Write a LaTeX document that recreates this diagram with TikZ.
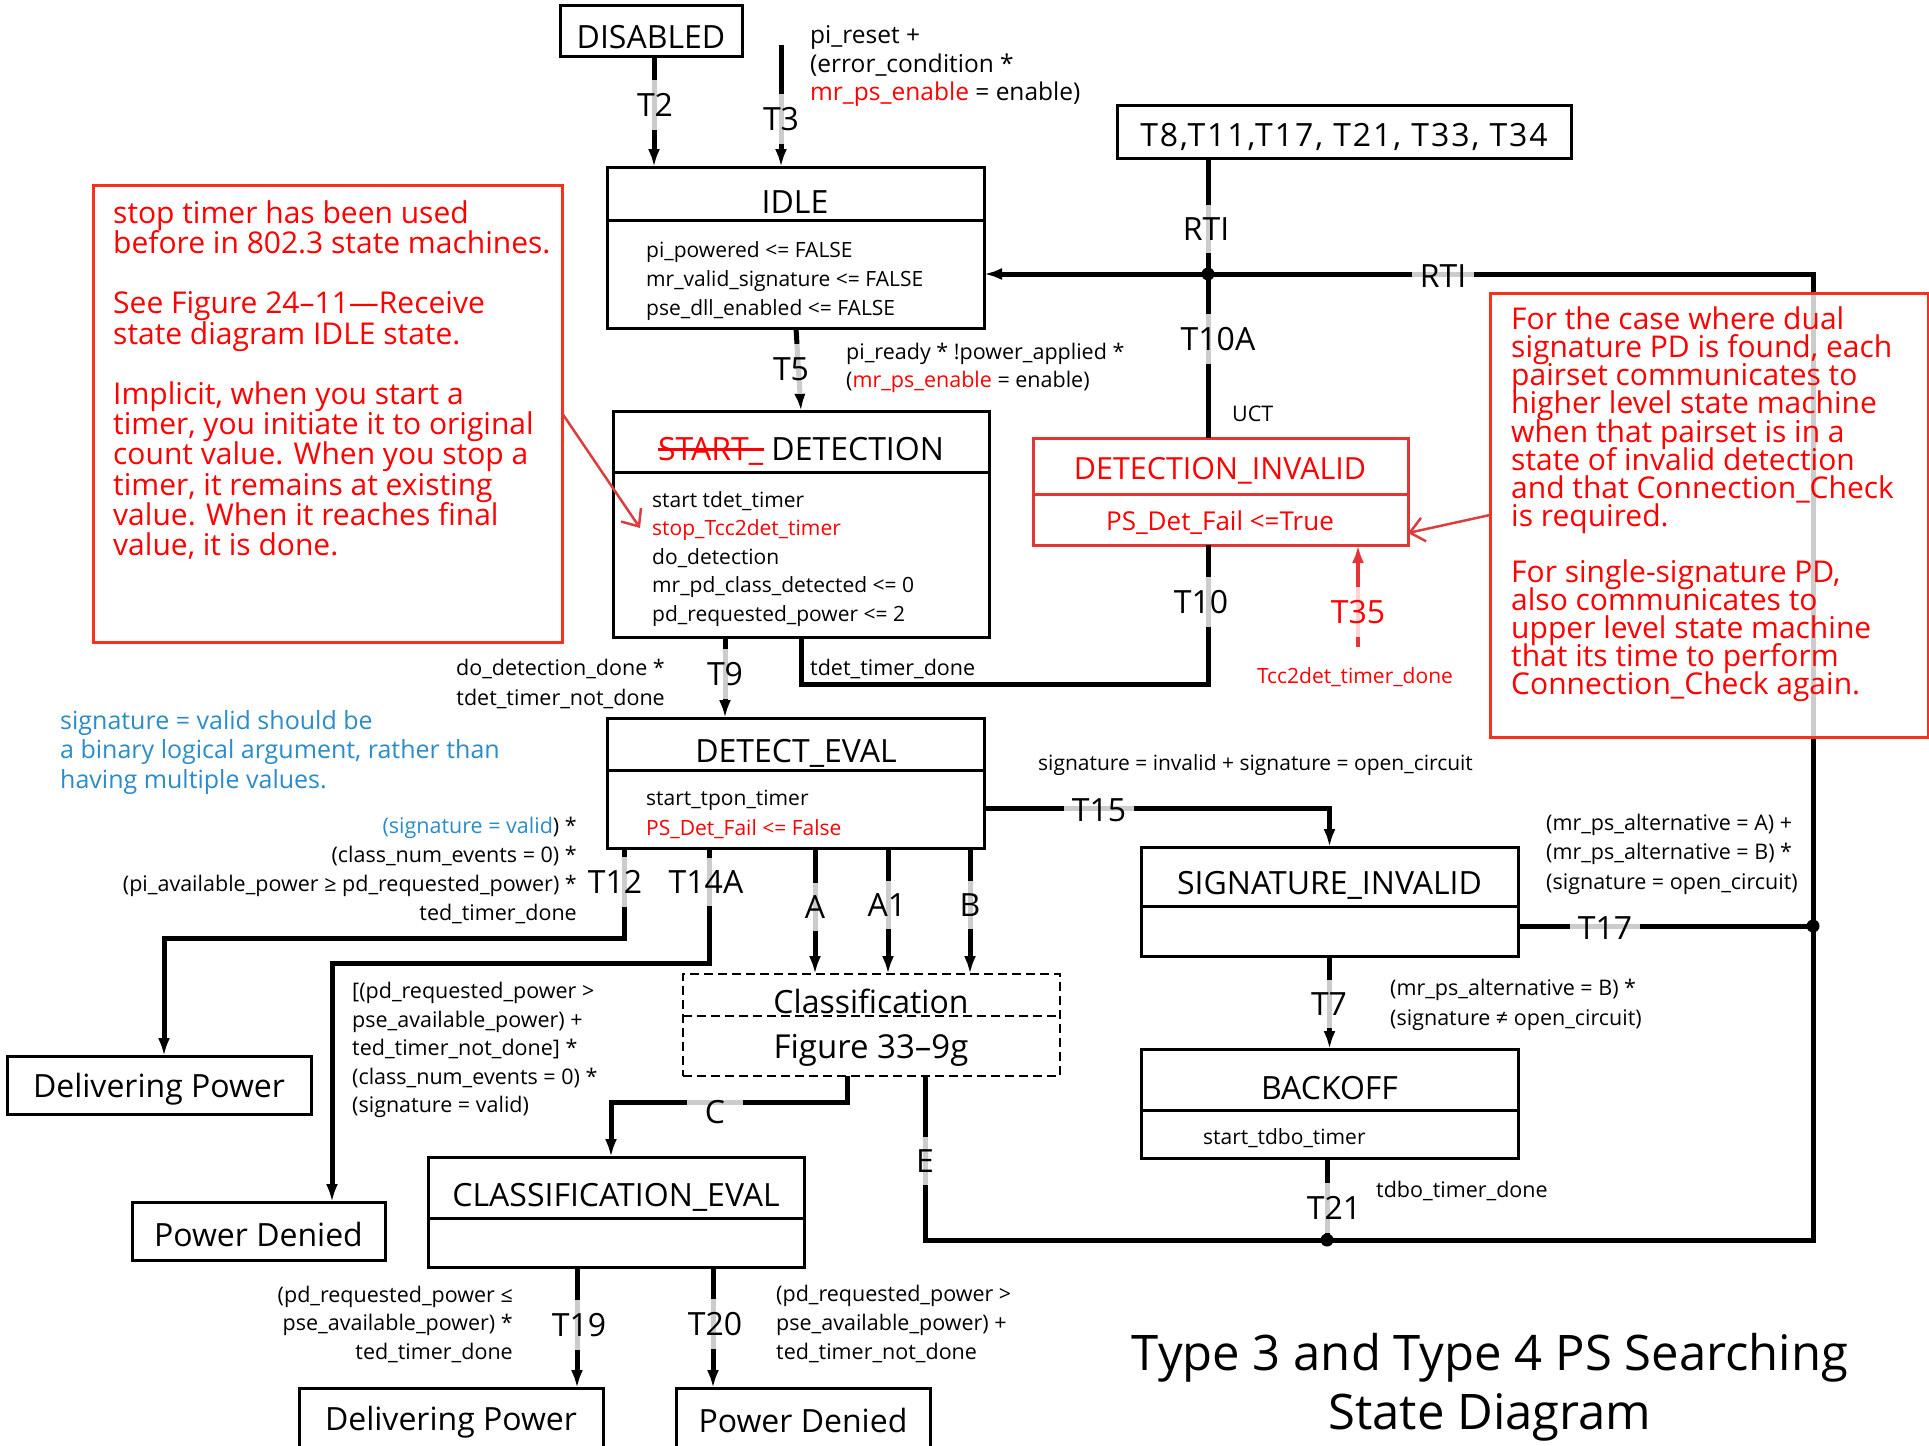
\documentclass[tikz,border=0pt]{standalone}
\usepackage{fontspec}
\setmainfont{Open Sans}
\usetikzlibrary{arrows.meta}
\definecolor{notered}{RGB}{255,0,0}
\definecolor{noteframe}{RGB}{250,48,28}
\definecolor{invred}{RGB}{228,52,52}
\definecolor{pointerred}{RGB}{218,62,62}
\definecolor{hintblue}{RGB}{42,140,200}
% struck-through word
\newcommand\struck[1]{\rlap{\rule[0.3em]{3.3em}{2.4pt}}#1}

\tikzset{
  conn/.style={line width=5pt},
  arr/.style={conn,-{Latex[length=18pt,width=12pt]}},
  box/.style={draw, line width=3pt, fill=white, inner sep=0pt, outer sep=0pt, anchor=north west},
  divider/.style={line width=3pt},
  title/.style={font=\fontsize{32}{36}\selectfont, inner sep=0pt, yshift=-4pt},
  body/.style={font=\fontsize{21}{29}\selectfont, align=left, anchor=west, inner sep=0pt, yshift=-2pt},
  cond/.style={font=\fontsize{21.5}{29}\selectfont, inner sep=0pt, yshift=-2pt},
  tl/.style={font=\fontsize{32}{32}\selectfont, fill=white, fill opacity=0.8, text opacity=1, inner xsep=8pt, inner ysep=13pt, yshift=-2pt},
  notebox/.style={draw=noteframe, line width=3pt, fill=white, fill opacity=0.8, inner sep=0pt, outer sep=0pt, anchor=north west},
  notetext/.style={text=notered, font=\fontsize{30}{30.2}\selectfont, align=left, anchor=west, inner sep=0pt},
  junction/.style={circle, fill=black, inner sep=0pt, minimum size=13pt},
  pointer/.style={draw=pointerred, line width=2.5pt, -{Straight Barb[length=14pt,width=24pt]}},
}

\begin{document}
\lineskiplimit=-100pt
\begin{tikzpicture}[x=1pt,y=-1pt]
\clip (0,0) rectangle (1929,1445);
\fill[white] (0,0) rectangle (1929,1445);

% ---------- states ----------
\node[box, minimum width=182pt, minimum height=51pt] (disabled) at (560,6) {};
\node[title] (disabledT) at (651,33) {DISABLED};

\node[box, minimum width=454pt, minimum height=53pt] (t8) at (1117,105) {};
\node[title, font=\fontsize{32}{36}\selectfont\addfontfeature{LetterSpace=6}] (t8T) at (1344,133) {T8,T11,T17, T21, T33, T34};

\node[box, minimum width=377pt, minimum height=161pt] (idle) at (607,167) {};
\draw[divider] (607,220) -- (984,220);
\node[title] (idleT) at (795,198) {IDLE};
\node[body] (idleB) at (646,279) {pi\_powered <= FALSE\\mr\_valid\_signature <= FALSE\\pse\_dll\_enabled <= FALSE};

\node[box, minimum width=376pt, minimum height=226pt] (det) at (613,411) {};
\draw[divider] (613,472) -- (989,472);
\node[title] (detT) at (801,447) {\textcolor{notered}{\struck{START\_}} DETECTION};
\node[body, font=\fontsize{21}{28.5}\selectfont] (detB) at (652,557) {start tdet\_timer\\\textcolor{notered}{stop\_Tcc2det\_timer}\\do\_detection\\mr\_pd\_class\_detected <= 0\\pd\_requested\_power <= 2};

\node[box, draw=invred, minimum width=375pt, minimum height=107pt] (dinv) at (1033,438) {};
\draw[divider, invred] (1033,494) -- (1408,494);
\node[title, text=notered, font=\fontsize{30.5}{34}\selectfont] (dinvT) at (1220,467) {DETECTION\_INVALID};
\node[title, text=notered, font=\fontsize{26}{30}\selectfont] (dinvB) at (1220,519) {PS\_Det\_Fail <=True};

\node[box, minimum width=377pt, minimum height=130pt] (deval) at (607,718) {};
\draw[divider] (607,770) -- (984,770);
\node[title] (devalT) at (796,749) {DETECT\_EVAL};
\node[body, font=\fontsize{21}{30}\selectfont] (devalB) at (646,812) {start\_tpon\_timer\\\textcolor{notered}{PS\_Det\_Fail <= False}};

\node[box, minimum width=377pt, minimum height=109pt] (siginv) at (1141,847) {};
\draw[divider] (1141,906) -- (1518,906);
\node[title] (siginvT) at (1329.5,881) {SIGNATURE\_INVALID};

\node[box, minimum width=377pt, minimum height=109pt] (backoff) at (1141,1049) {};
\draw[divider] (1141,1110) -- (1518,1110);
\node[title] (backoffT) at (1329.5,1084) {BACKOFF};
\node[body] (backoffB) at (1203,1136) {start\_tdbo\_timer};

\node[box, dashed, dash pattern=on 9pt off 5pt, line width=2.5pt, minimum width=377pt, minimum height=102pt] (classif) at (683,974) {};
\draw[line width=2.5pt, dash pattern=on 9pt off 5pt] (683,1016) -- (1060,1016);
\node[title] (classifT) at (871,997) {Classification};
\node[title, font=\fontsize{33}{36}\selectfont] (classifB) at (871,1046) {Figure 33–9g};

\node[box, minimum width=376pt, minimum height=110pt] (ceval) at (428,1157) {};
\draw[divider] (428,1218) -- (804,1218);
\node[title] (cevalT) at (616,1193) {CLASSIFICATION\_EVAL};

\node[box, minimum width=304pt, minimum height=58pt] (dp1) at (7,1056) {};
\node[title] (dp1T) at (159,1085) {Delivering Power};
\node[box, minimum width=253pt, minimum height=58pt] (pd1) at (132,1202) {};
\node[title] (pd1T) at (258.5,1230) {Power Denied};
\node[box, minimum width=304pt, minimum height=80pt] (dp2) at (299,1388) {};
\node[title] (dp2T) at (451,1418) {Delivering Power};
\node[box, minimum width=254pt, minimum height=80pt] (pd2) at (676,1388) {};
\node[title] (pd2T) at (803,1416) {Power Denied};

% ---------- junctions ----------
\node[junction] (j1) at (1208,274) {};
\node[junction] (j2) at (1813,926) {};
\node[junction] (j3) at (1327,1240) {};
\coordinate (t3start) at (781,45);
\coordinate (t35start) at (1358,647);

% ---------- connectors ----------
\draw[arr] (disabled.south -| 654,0) -- (idle.north -| 654,0);
\draw[arr] (t3start) -- (idle.north -| t3start);
\draw[conn] (t8.south -| j1) -- (j1.center);
\draw[arr] (j1.center) -- (idle.east |- j1);
\draw[conn] (dinv.north -| j1) -- (j1.center);
\draw[conn] (j1.center) -| (j2.center) -- (1813,1240) -- (j3.center) -- (925,1240) -- (classif.south -| 925,0);
\draw[conn] (siginv.east |- j2) -- (j2.center);
\draw[conn] (backoff.south -| j3) -- (j3.center);
\draw[arr] (idle.south -| 796,0) -- (det.north -| 801,0);
\draw[arr] (det.south -| 725,0) -- (deval.north -| 725,0);
\draw[conn] (det.south -| 801,0) |- (1208,684) -- (dinv.south -| 1208,0);
\draw[arr, draw=invred, line width=4.5pt] (t35start) -- (dinv.south -| t35start);
\draw[arr] (deval.east |- 0,808) -| (siginv.north);
\draw[arr] (deval.south -| 624,0) -- (624,938) -| (dp1.north -| 164,0);
\draw[arr] (deval.south -| 709,0) -- (709,963) -| (pd1.north -| 332,0);
\draw[arr] (deval.south -| 815,0) -- (classif.north -| 815,0);
\draw[arr] (deval.south -| 888,0) -- (classif.north -| 888,0);
\draw[arr] (deval.south -| 970,0) -- (classif.north -| 970,0);
\draw[arr] (classif.south -| 847,0) -- (847,1102) -| (ceval.north -| 611,0);
\draw[arr] (siginv.south) -- (backoff.north);
\draw[arr] (ceval.south -| 577,0) -- (dp2.north -| 577,0);
\draw[arr] (ceval.south -| 713,0) -- (pd2.north -| 713,0);

% ---------- transition labels ----------
\node[tl] (lT2) at (655,103) {T2};
\node[tl] (lT3) at (781,117) {T3};
\node[tl] (lRTIa) at (1206,227) {RTI};
\node[tl] (lRTIb) at (1443,274) {RTI};
\node[tl] (lT10A) at (1218,337) {T10A};
\node[tl] (lT5) at (791,367) {T5};
\node[tl] (lT10) at (1201,600) {T10};
\node[tl, text=notered] (lT35) at (1358,610) {T35};
\node[tl] (lT9) at (725,672) {T9};
\node[tl] (lT15) at (1099,808) {T15};
\node[tl] (lT12) at (615,880) {T12};
\node[tl] (lT14A) at (706,880) {T14A};
\node[tl] (lA) at (815,905) {A};
\node[tl] (lA1) at (887,903) {A1};
\node[tl] (lB) at (970,903) {B};
\node[tl] (lT17) at (1605,926) {T17};
\node[tl] (lT7) at (1329,1002) {T7};
\node[tl, inner xsep=18pt] (lC) at (715,1110) {C};
\node[tl] (lE) at (925,1159) {E};
\node[tl] (lT21) at (1334,1206) {T21};
\node[tl] (lT19) at (579,1323) {T19};
\node[tl] (lT20) at (715,1322) {T20};

% ---------- guard conditions ----------
\node[cond, anchor=west, align=left, font=\fontsize{24.5}{28.5}\selectfont] (c3) at (810,64) {pi\_reset +\\(error\_condition *\\\textcolor{notered}{mr\_ps\_enable} = enable)};
\node[cond, anchor=west, align=left, font=\fontsize{21.5}{28}\selectfont] (c5) at (846,366) {pi\_ready * !power\_applied *\\(\textcolor{notered}{mr\_ps\_enable} = enable)};
\node[cond, anchor=west] (cUCT) at (1232,412) {UCT};
\node[cond, anchor=west] (c10) at (810,667) {tdet\_timer\_done};
\node[cond, anchor=east, align=right, font=\fontsize{21.5}{30}\selectfont] (c9) at (665,682) {do\_detection\_done *\\tdet\_timer\_not\_done};
\node[cond, text=notered, font=\fontsize{21}{29}\selectfont] (c35) at (1355,675) {Tcc2det\_timer\_done};
\node[cond, anchor=west, font=\fontsize{21}{29}\selectfont] (c15) at (1038,763) {signature = invalid + signature = open\_circuit};
\node[cond, anchor=east, align=right] (c12) at (577,868) {\textcolor{hintblue}{(signature = valid}) *\\(class\_num\_events = 0) *\\(pi\_available\_power ≥ pd\_requested\_power) *\\ted\_timer\_done};
\node[cond, anchor=west, align=left, font=\fontsize{21.5}{28.5}\selectfont] (c14) at (352,1048) {[(pd\_requested\_power >\\pse\_available\_power) +\\ted\_timer\_not\_done] *\\(class\_num\_events = 0) *\\(signature = valid)};
\node[cond, anchor=west, align=left, font=\fontsize{21.5}{29.5}\selectfont] (c17) at (1546,852) {(mr\_ps\_alternative = A) +\\(mr\_ps\_alternative = B) *\\(signature = open\_circuit)};
\node[cond, anchor=west, align=left, font=\fontsize{21.5}{30}\selectfont] (c7) at (1390,1003) {(mr\_ps\_alternative = B) *\\(signature ≠ open\_circuit)};
\node[cond, anchor=west] (c21) at (1376,1189) {tdbo\_timer\_done};
\node[cond, anchor=east, align=right, font=\fontsize{21.5}{28.5}\selectfont] (c19) at (513,1322) {(pd\_requested\_power ≤\\pse\_available\_power) *\\ted\_timer\_done};
\node[cond, anchor=west, align=left, font=\fontsize{21.5}{29}\selectfont] (c20) at (776,1322) {(pd\_requested\_power >\\pse\_available\_power) +\\ted\_timer\_not\_done};

\node[cond, anchor=west, align=left, text=hintblue, font=\fontsize{25}{29.5}\selectfont] (hint) at (60,750) {signature = valid should be\\a binary logical argument, rather than\\having multiple values.};

% ---------- notes ----------
\node[notebox, minimum width=469pt, minimum height=457pt] (note1) at (93,185) {};
\node[notetext] (note1T) at (113,380) {stop timer has been used\\before in 802.3 state machines.\\[30.2pt]See Figure 24–11—Receive\\state diagram IDLE state.\\[30.2pt]Implicit, when you start a\\timer, you initiate it to original\\count value. When you stop a\\timer, it remains at existing\\value. When it reaches final\\value, it is done.};

\node[notebox, minimum width=438pt, minimum height=444pt] (note2) at (1490,293) {};
\node[notetext, font=\fontsize{30}{28.1}\selectfont] (note2T) at (1511,504.5) {For the case where dual\\signature PD is found, each\\pairset communicates to\\higher level state machine\\when that pairset is in a\\state of invalid detection\\and that Connection\_Check\\is required.\\[28.1pt]For single-signature PD,\\also communicates to\\upper level state machine\\that its time to perform\\Connection\_Check again.};

\coordinate (stopmark) at (640,528);
\draw[pointer] (note1.east |- 0,413) -- (stopmark);
\draw[pointer] (note2.west |- 0,515) -- (dinv.east |- 0,533);

% ---------- caption ----------
\node[align=center, font=\fontsize{49}{59}\selectfont, inner sep=0pt] (caption) at (1490,1387) {Type 3 and Type 4 PS Searching\\State Diagram};

\end{tikzpicture}
\end{document}
